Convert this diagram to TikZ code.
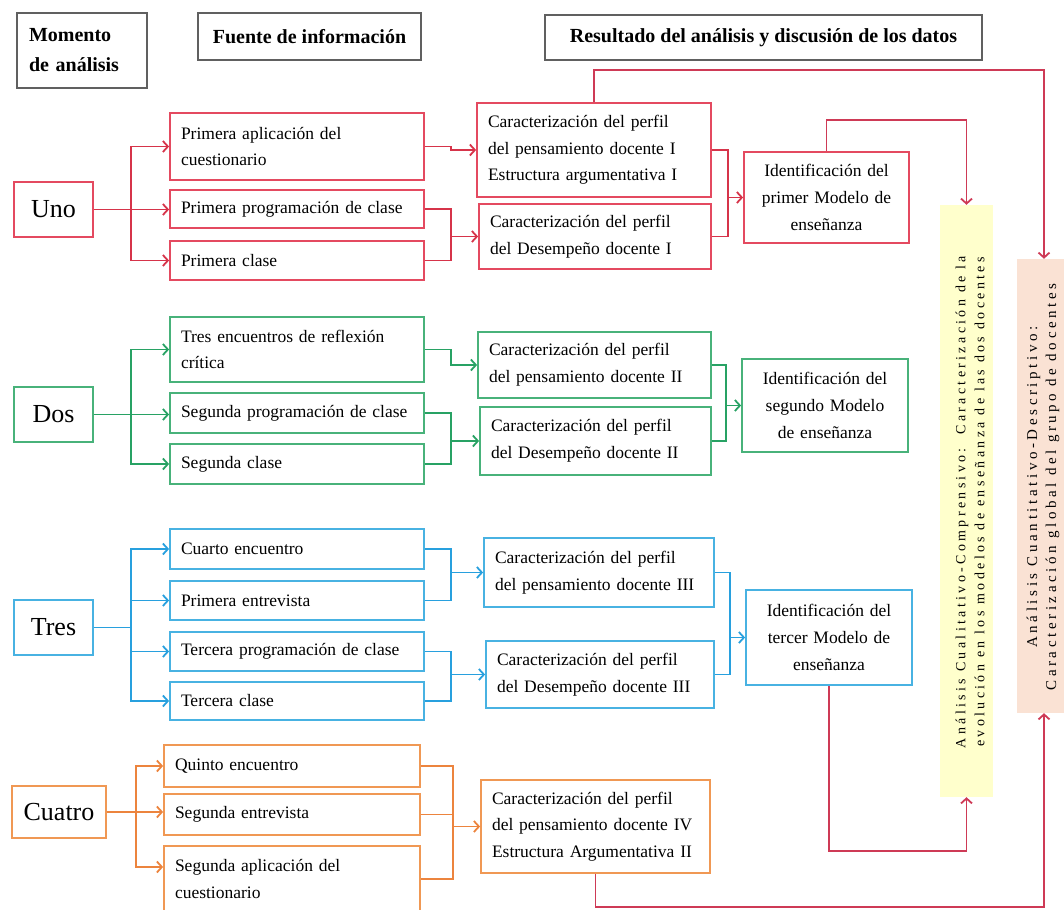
\documentclass[tikz,border=0pt]{standalone}
\usepackage{fontspec}
\setmainfont{Liberation Serif}
\newfontfamily\widefont[LetterSpace=24]{Liberation Serif}
\usetikzlibrary{arrows.meta,calc}
\definecolor{redbox}{RGB}{228,74,96}
\definecolor{redln}{RGB}{214,52,74}
\definecolor{grnbox}{RGB}{72,178,122}
\definecolor{grnln}{RGB}{40,162,100}
\definecolor{blubox}{RGB}{72,178,226}
\definecolor{bluln}{RGB}{40,160,222}
\definecolor{orgbox}{RGB}{240,152,84}
\definecolor{orgln}{RGB}{236,132,62}
\definecolor{flowln}{RGB}{206,58,86}
\definecolor{headc}{RGB}{96,96,96}
\definecolor{qualfill}{RGB}{255,255,204}
\definecolor{quantfill}{RGB}{250,226,212}

\begin{document}
\begin{tikzpicture}[x=1pt,y=-1pt,
  sz/.code 2 args={\pgfmathsetmacro\boxtw{#1-22}%
    \edef\tmpbx{\noexpand\tikzset{minimum width=#1pt,minimum height=#2pt,text width=\boxtw pt}}\tmpbx},
  body/.style={font=\fontsize{17.5}{26.7}\selectfont},
  head/.style={draw=headc, line width=1.8pt, fill=white, inner xsep=12pt, inner ysep=0pt,
    font=\fontsize{20}{30}\selectfont\bfseries},
  stage/.style={draw, line width=1.8pt, fill=white, inner sep=0pt,
    font=\fontsize{26}{30}\selectfont},
  src/.style={draw, line width=1.8pt, fill=white, inner xsep=11pt, inner ysep=0pt, align=left, body},
  ident/.style={src, align=center},
  panel/.style={draw=none, inner sep=0pt},
  paneltext/.style={rotate=90, align=center, inner sep=0pt},
  ln/.style={line width=1.8pt},
  arr/.style={ln, -{Straight Barb[length=5pt,width=11pt]}},
]
\useasboundingbox (0,0) rectangle (1064,909);
\clip (0,0) rectangle (1064,909);

% column headings
\node[head, sz={128}{75}, align=left] (hmom) at (82,50.5) {Momento\\de análisis};
\node[head, minimum width=223pt, minimum height=47pt] (hfue) at (309.5,36.5) {Fuente de información};
\node[head, minimum width=437pt, minimum height=45pt] (hres) at (763.5,37.5) {Resultado del análisis y discusión de los datos};

% summary panels
\node[panel, fill=qualfill, minimum width=53pt, minimum height=592pt] (qual) at (966.5,501) {};
\node[paneltext, font=\widefont\fontsize{14}{19}\selectfont] (qualtxt) at (970,502)
  {Análisis Cualitativo-Comprensivo:\ \ Caracterización de la\\evolución en los modelos de enseñanza de las dos docentes};
\node[panel, fill=quantfill, minimum width=54pt, minimum height=454pt] (quant) at (1044,486) {};
\node[paneltext, font=\widefont\fontsize{15}{19}\selectfont] (quanttxt) at (1043,487)
  {Análisis Cuantitativo-Descriptivo:\\Caracterización global del grupo de docentes};

% moment one
\node[stage, draw=redbox, minimum width=79pt, minimum height=55pt] (uno) at (53.5,209.5) {Uno};
\node[src, draw=redbox, sz={254}{67}] (p1) at (297,146.5) {Primera aplicación del\\cuestionario};
\node[src, draw=redbox, sz={254}{38}] (p2) at (297,209) {Primera programación de clase};
\node[src, draw=redbox, sz={254}{39}] (p3) at (297,260.5) {Primera clase};
\node[src, draw=redbox, sz={234}{94}] (c1) at (594,150) {Caracterización del perfil\\del pensamiento docente I\\Estructura argumentativa I};
\node[src, draw=redbox, sz={232}{65}] (d1) at (595,236.5) {Caracterización del perfil\\del Desempeño docente I};
\node[ident, draw=redbox, sz={165}{91}] (i1) at (826.5,197.5) {Identificación del\\primer Modelo de\\enseñanza};

% moment two
\node[stage, draw=grnbox, minimum width=79pt, minimum height=55pt] (dos) at (53.5,414.5) {Dos};
\node[src, draw=grnbox, sz={254}{65}] (g1) at (297,349.5) {Tres encuentros de reflexión\\crítica};
\node[src, draw=grnbox, sz={254}{40}] (g2) at (297,413) {Segunda programación de clase};
\node[src, draw=grnbox, sz={254}{40}] (g3) at (297,464) {Segunda clase};
\node[src, draw=grnbox, sz={233}{66}] (c2) at (594.5,365) {Caracterización del perfil\\del pensamiento docente II};
\node[src, draw=grnbox, sz={231}{68}] (d2) at (595.5,441) {Caracterización del perfil\\del Desempeño docente II};
\node[ident, draw=grnbox, sz={166}{93}] (i2) at (825,405.5) {Identificación del\\segundo Modelo\\de enseñanza};

% moment three
\node[stage, draw=blubox, minimum width=79pt, minimum height=55pt] (tres) at (53.5,627.5) {Tres};
\node[src, draw=blubox, sz={254}{40}] (b1) at (297,549) {Cuarto encuentro};
\node[src, draw=blubox, sz={254}{39}] (b2) at (297,600.5) {Primera entrevista};
\node[src, draw=blubox, sz={254}{39}] (b3) at (297,651.5) {Tercera programación de clase};
\node[src, draw=blubox, sz={254}{38}] (b4) at (297,701) {Tercera clase};
\node[src, draw=blubox, sz={230}{69}] (c3) at (599,572.5) {Caracterización del perfil\\del pensamiento docente III};
\node[src, draw=blubox, sz={228}{67}] (d3) at (600,674.5) {Caracterización del perfil\\del Desempeño docente III};
\node[ident, draw=blubox, sz={166}{95}] (i3) at (829,637.5) {Identificación del\\tercer Modelo de\\enseñanza};

% moment four
\node[stage, draw=orgbox, minimum width=94pt, minimum height=52pt] (cua) at (59,812) {Cuatro};
\node[src, draw=orgbox, sz={256}{42}] (o1) at (292,766) {Quinto encuentro};
\node[src, draw=orgbox, sz={256}{41}] (o2) at (292,814.5) {Segunda entrevista};
\node[src, draw=orgbox, sz={256}{66}] (o3) at (292,879) {Segunda aplicación del\\cuestionario};
\node[src, draw=orgbox, sz={229}{93}] (c4) at (595.5,826.5) {Caracterización del perfil\\del pensamiento docente IV\\Estructura Argumentativa II};

% branching and merging columns
\coordinate (tr1) at (131,0);
\coordinate (tr2) at (131,0);
\coordinate (tr3) at (131,0);
\coordinate (tr4) at (136,0);
\coordinate (mg1) at (451,0);
\coordinate (mg2) at (451,0);
\coordinate (mg3) at (451,0);
\coordinate (mg4) at (453,0);
\coordinate (mr1) at (728,0);
\coordinate (mr2) at (726,0);
\coordinate (mr3) at (730,0);

% connectors, moment one
\draw[ln, redln] (uno.east) -- (uno.east -| tr1);
\draw[arr, redln] (uno.east -| tr1) |- (p1.west);
\draw[arr, redln] (uno.east -| tr1) -- (uno.east -| p2.west);
\draw[arr, redln] (uno.east -| tr1) |- (p3.west);
\draw[arr, redln] (p1.east) -- (p1.east -| mg1) |- (c1.west);
\draw[ln, redln] (p2.east) -- (p2.east -| mg1) -- (p3.east -| mg1) -- (p3.east);
\draw[arr, redln] (d1.west -| mg1) -- (d1.west);
\draw[ln, redln] (c1.east) -- (c1.east -| mr1) -- (d1.east -| mr1) -- (d1.east);
\draw[arr, redln] (i1.west -| mr1) -- (i1.west);

% connectors, moment two
\draw[ln, grnln] (dos.east) -- (dos.east -| tr2);
\draw[arr, grnln] (dos.east -| tr2) |- (g1.west);
\draw[arr, grnln] (dos.east -| tr2) -- (dos.east -| g2.west);
\draw[arr, grnln] (dos.east -| tr2) |- (g3.west);
\draw[arr, grnln] (g1.east) -- (g1.east -| mg2) |- (c2.west);
\draw[ln, grnln] (g2.east) -- (g2.east -| mg2) -- (g3.east -| mg2) -- (g3.east);
\draw[arr, grnln] (d2.west -| mg2) -- (d2.west);
\draw[ln, grnln] (c2.east) -- (c2.east -| mr2) -- (d2.east -| mr2) -- (d2.east);
\draw[arr, grnln] (i2.west -| mr2) -- (i2.west);

% connectors, moment three
\draw[ln, bluln] (tres.east) -- (tres.east -| tr3);
\draw[arr, bluln] (tres.east -| tr3) |- (b1.west);
\draw[arr, bluln] (tres.east -| tr3) |- (b2.west);
\draw[arr, bluln] (tres.east -| tr3) |- (b3.west);
\draw[arr, bluln] (tres.east -| tr3) |- (b4.west);
\draw[ln, bluln] (b1.east) -- (b1.east -| mg3) -- (b2.east -| mg3) -- (b2.east);
\draw[arr, bluln] (c3.west -| mg3) -- (c3.west);
\draw[ln, bluln] (b3.east) -- (b3.east -| mg3) -- (b4.east -| mg3) -- (b4.east);
\draw[arr, bluln] (d3.west -| mg3) -- (d3.west);
\draw[ln, bluln] (c3.east) -- (c3.east -| mr3) -- (d3.east -| mr3) -- (d3.east);
\draw[arr, bluln] (i3.west -| mr3) -- (i3.west);

% connectors, moment four
\draw[ln, orgln] (cua.east) -- (cua.east -| tr4);
\draw[arr, orgln] (cua.east -| tr4) |- (o1.west);
\draw[arr, orgln] (cua.east -| tr4) -- (cua.east -| o2.west);
\draw[arr, orgln] (cua.east -| tr4) |- ($(o3.west)+(0,-12)$);
\draw[ln, orgln] (o1.east) -- (o1.east -| mg4) -- (o3.east -| mg4) -- (o3.east);
\draw[ln, orgln] (o2.east) -- (o2.east -| mg4);
\draw[arr, orgln] (c4.west -| mg4) -- (c4.west);

% flows into the summary panels
\draw[arr, flowln] (c1.north) -- ++(0,-32) -| (quant.north);
\draw[arr, flowln] (i1.north) -- ++(0,-31) -| (qual.north);
\draw[arr, flowln] (i3.south) -- ++(0,165) -| (qual.south);
\draw[arr, flowln] (c4.south) -- ++(0,33) -| (quant.south);
\end{tikzpicture}
\end{document}
